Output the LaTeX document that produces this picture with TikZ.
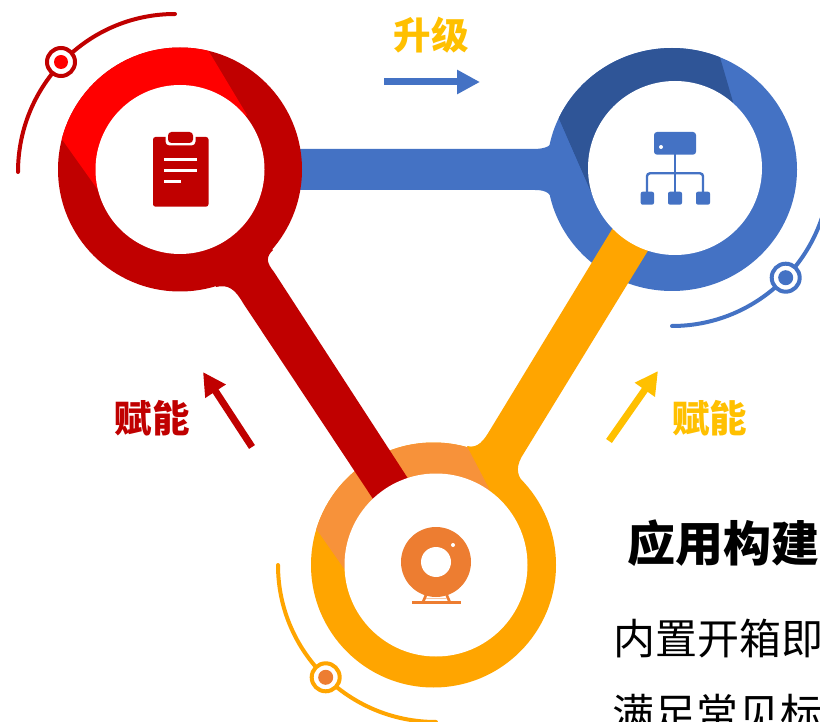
\documentclass[tikz,border=0pt]{standalone}
\usepackage{fontspec}
\usetikzlibrary{arrows.meta}
\newfontfamily\cjk{Noto Sans CJK SC}
\definecolor{ringred}{HTML}{C00000}
\definecolor{brightred}{HTML}{FF0000}
\definecolor{ringblue}{HTML}{4472C4}
\definecolor{darkblue}{HTML}{2F5597}
\definecolor{ringorange}{HTML}{FFA500}
\definecolor{lightorange}{HTML}{F7923A}
\definecolor{iconorange}{HTML}{ED7D31}
\definecolor{labelyellow}{HTML}{FFC000}
\tikzset{
  lbl/.style={inner sep=0pt,font=\cjk\bfseries\fontsize{37.5}{37.5}\selectfont},
  headline/.style={inner sep=0pt,anchor=west,font=\cjk\bfseries\fontsize{48}{48}\selectfont,text=black},
  bodyline/.style={inner sep=0pt,anchor=west,font=\cjk\fontsize{42}{42}\selectfont,text=black},
  orbit/.style={line width=4pt,line cap=round},
  orbitdot/.style={circle,draw=#1,fill=white,line width=4pt,minimum size=28pt,inner sep=0pt},
  fatarrow/.style={line width=7pt,-{Triangle[length=23pt,width=23pt]}},
}
\begin{document}
\begin{tikzpicture}[x=1pt,y=-1pt]
\useasboundingbox (0,0) rectangle (820,722);
\fill[white] (0,0) rectangle (820,722);
\coordinate (R) at (180,169.5);
\coordinate (B) at (672,169.5);
\coordinate (O) at (433.5,565);
% blue ring
\fill[ringblue] (B) ellipse[x radius=125pt,y radius=121.5pt];
\begin{scope}
  \clip (B) ellipse[x radius=125pt,y radius=121.5pt];
  \fill[darkblue] (715,40) -- (733,102) -- (675,168) -- (600,213) -- (553,105) -- (540,105) -- (540,40) -- cycle;
\end{scope}
% blue bar
\fill[ringblue] (290,149) -- (533,149) .. controls (546,149) and (552,146) .. (554,138) -- (560,122)
  -- (600,213) -- (559,218) -- (554,202) .. controls (551,194) and (547,190) .. (535,190) -- (290,190) -- cycle;
% orange ring
\fill[ringorange] (O) circle[radius=122.5pt];
\begin{scope}
  \clip (O) circle[radius=122.5pt];
  \fill[lightorange] (460,432) -- (490,490) -- (436,565) -- (345,570) -- (310,520) -- (310,432) -- cycle;
\end{scope}
% orange bar
\fill[ringorange] (625,208) -- (490,430) .. controls (484,440) and (478,449) .. (467,446)
  -- (490,490) -- (523,482) .. controls (516,474) and (516,465) .. (524,453) -- (660,231) -- cycle;
\fill[white] (675,168) circle[radius=87pt];
% red bar
\fill[ringred] (385,517) -- (243,303) .. controls (235,289) and (228,284) .. (216,287)
  -- (180,170) -- (273,250) .. controls (266,257) and (266,262) .. (274,272) -- (420,497) -- cycle;
\fill[white] (436,565) circle[radius=91.5pt];
% red ring
\fill[ringred] (R) circle[radius=122pt];
\begin{scope}
  \clip (R) circle[radius=122pt];
  \fill[brightred] (196,30) -- (247,115) -- (180,170) -- (98,190) -- (46,117) -- (46,30) -- cycle;
\end{scope}
\fill[white] (R) circle[radius=84.5pt];
% orbits
\coordinate (ra) at (175,14); \coordinate (rb) at (18,172);
\coordinate (ba) at (672,326); \coordinate (bb) at (830,168);
\coordinate (oa) at (278,565); \coordinate (ob) at (436,722);
\draw[orbit,ringred] (ra) .. controls (88,14) and (18,85) .. (rb);
\draw[orbit,ringblue] (ba) .. controls (759,326) and (830,255) .. (bb);
\draw[orbit,ringorange] (oa) .. controls (278,652) and (349,722) .. (ob);
\node[orbitdot=ringred] (rd) at (61,62) {};
\node[orbitdot=ringblue] (bd) at (785.7,277.7) {};
\node[orbitdot=ringorange] (od) at (325.7,677.3) {};
\fill[brightred] (rd) circle[radius=7pt];
\fill[ringblue] (bd) circle[radius=7.5pt];
\fill[iconorange] (od) circle[radius=7.5pt];
% clipboard icon
\fill[ringred,rounded corners=2.5pt] (153,137) rectangle (208.5,206.7);
\fill[white,rounded corners=4pt] (165.5,130) rectangle (195.5,145.5);
\fill[ringred,rounded corners=3.5pt] (168,132) rectangle (193,143);
\draw[white,line width=2.4pt] (164,159.5) -- (197,159.5) (164,170.7) -- (197,170.7) (164,181.7) -- (181,181.7);
% network icon
\draw[ringblue,line width=2.4pt] (675,154) -- (675,195);
\draw[ringblue,line width=2.4pt,rounded corners=3pt] (647,195) -- (647,173.3) -- (703,173.3) -- (703,195);
\fill[ringblue,rounded corners=3pt] (654,132) rectangle (696,154.7);
\fill[white] (661,147) circle[radius=2pt];
\fill[ringblue,rounded corners=2pt] (640.7,191.7) rectangle (654,204.7);
\fill[ringblue,rounded corners=2pt] (668,191.7) rectangle (682,204.7);
\fill[ringblue,rounded corners=2pt] (696,191.7) rectangle (710,204.7);
% camera icon
\draw[iconorange,line width=2.7pt] (412,602.7) -- (460.7,602.7);
\draw[iconorange,line width=2.7pt] (426,595) -- (422.7,602.7) (446.7,595) -- (450,602.7);
\draw[iconorange!45,line width=1pt] (426,598) -- (447,598);
\fill[iconorange] (436,562) circle[radius=35pt];
\fill[white] (436,562) circle[radius=15pt];
\fill[white] (453,545) circle[radius=2pt];
% arrows
\coordinate (a1) at (384,82); \coordinate (a2) at (480,82);
\coordinate (a3) at (252,447); \coordinate (a4) at (203,372);
\coordinate (a5) at (609,441); \coordinate (a6) at (658,371);
\draw[fatarrow,ringblue] (a1) -- (a2);
\draw[fatarrow,ringred] (a3) -- (a4);
\draw[fatarrow,labelyellow] (a5) -- (a6);
% labels
\node[lbl,text=labelyellow] (up) at (431,35) {升级};
\node[lbl,text=ringred] (en1) at (152,418) {赋能};
\node[lbl,text=labelyellow] (en2) at (709.5,418) {赋能};
\node[headline] (head) at (627.5,543) {应用构建};
\node[bodyline] (l1) at (613.5,639) {内置开箱即};
\node[bodyline] (l2) at (612,714) {满足常见标};
\end{tikzpicture}
\end{document}
